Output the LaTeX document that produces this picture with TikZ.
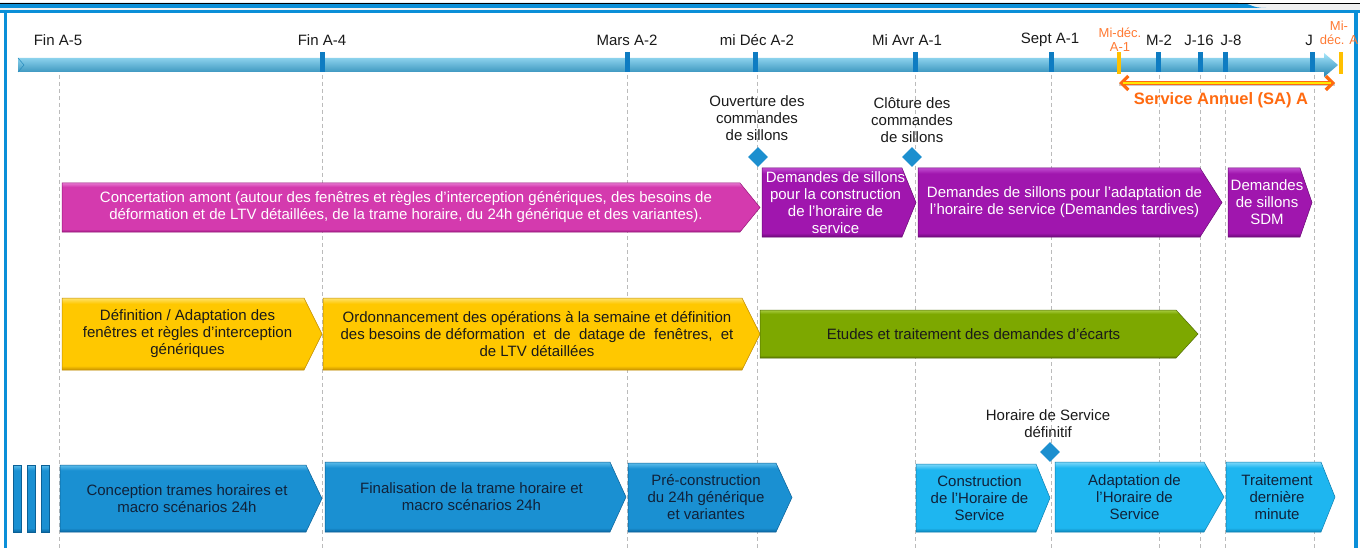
\documentclass[tikz,border=0pt]{standalone}
\usepackage{fontspec}
\setmainfont{Liberation Sans}
\usetikzlibrary{arrows.meta,shapes.geometric}
\definecolor{frameblue}{HTML}{0B8FD8}
\definecolor{tickblue}{HTML}{0E7CC2}
\definecolor{diamblue}{HTML}{1C8FCF}
\definecolor{orangeA}{HTML}{FF6A10}
\definecolor{orangeB}{HTML}{FF7A33}
\definecolor{tickorange}{HTML}{FFC000}
\definecolor{guidegray}{HTML}{BBBBBB}
\definecolor{txtdark}{HTML}{1A1A1A}
\definecolor{txtnavy}{HTML}{10223A}
\definecolor{barT}{HTML}{A6E6FB}
\definecolor{barM}{HTML}{52C8F2}
\definecolor{barB}{HTML}{2484B2}
\definecolor{barE}{HTML}{288CBE}
\definecolor{magT}{HTML}{E676D0}
\definecolor{magM}{HTML}{D43AAE}
\definecolor{magB}{HTML}{9E1A82}
\definecolor{magD}{HTML}{961478}
\definecolor{purT}{HTML}{C04ACF}
\definecolor{purM}{HTML}{A016AE}
\definecolor{purB}{HTML}{6E0A7A}
\definecolor{purD}{HTML}{6A0875}
\definecolor{yelT}{HTML}{FFE26A}
\definecolor{yelM}{HTML}{FFC800}
\definecolor{yelB}{HTML}{C89200}
\definecolor{yelD}{HTML}{C08C00}
\definecolor{grnT}{HTML}{A8CC40}
\definecolor{grnM}{HTML}{7DA800}
\definecolor{grnB}{HTML}{557000}
\definecolor{grnD}{HTML}{4F6A00}
\definecolor{bluT}{HTML}{5CBCEA}
\definecolor{bluM}{HTML}{1A90D2}
\definecolor{bluB}{HTML}{0A66A0}
\definecolor{bluD}{HTML}{0A6096}
\definecolor{cyaT}{HTML}{7ED8FA}
\definecolor{cyaM}{HTML}{1EB6F0}
\definecolor{cyaB}{HTML}{0C84B8}
\definecolor{cyaD}{HTML}{0C7EB0}
\newcommand\mkbevel[1]{%
  \pgfdeclareverticalshading{#1sh}{100bp}{color(0bp)=(#1B); color(25bp)=(#1B); color(28bp)=(#1M); color(71bp)=(#1M); color(75bp)=(#1T); color(100bp)=(#1T)}}
\mkbevel{mag}\mkbevel{pur}\mkbevel{yel}\mkbevel{grn}\mkbevel{blu}\mkbevel{cya}
\tikzset{
  lbl/.style={font=\fontsize{15}{17}\selectfont, text=txtdark, inner sep=0, align=center},
  olbl/.style={font=\fontsize{13}{14}\selectfont, text=orangeB, inner sep=0, align=center},
  boxtxt/.style={font=\fontsize{15}{17}\selectfont, inner sep=0, align=center},
  wtxt/.style={text=white},
  dtxt/.style={text=txtdark},
  ntxt/.style={text=txtnavy},
  guide/.style={draw=guidegray, dash pattern=on 4pt off 3pt, line width=0.7pt},
  tickmark/.style={fill=tickblue, draw=none},
  otick/.style={fill=tickorange, draw=none},
  ms/.style={diamond, fill=diamblue, minimum width=20pt, minimum height=20pt, inner sep=0},
  magbox/.style={shade, shading=magsh, draw=magD, line width=0.5pt},
  purbox/.style={shade, shading=pursh, draw=purD, line width=0.5pt},
  yelbox/.style={shade, shading=yelsh, draw=yelD, line width=0.5pt},
  grnbox/.style={shade, shading=grnsh, draw=grnD, line width=0.5pt},
  blubox/.style={shade, shading=blush, draw=bluD, line width=0.5pt},
  cyabox/.style={shade, shading=cyash, draw=cyaD, line width=0.5pt},
}
% #1 name, #2 x1, #3 y1, #4 x2 (tip), #5 y2, #6 tip width, #7 box style, #8 text style, #9 text
\newcommand\chev[9]{%
  \path[#7] (#2,#3) -- ({#4-#6},#3) -- (#4,{(#3+#5)/2}) -- ({#4-#6},#5) -- (#2,#5) -- cycle;
  \node[boxtxt,#8] (#1) at ({(#2+#4-#6)/2+#6/4},{(#3+#5)/2}) {#9};
}
\begin{document}
\begin{tikzpicture}[x=1pt,y=-1pt]
\useasboundingbox (0,0) rectangle (1367,548);
\fill[white] (0,0) rectangle (1367,548);
% frame
\fill[gray!12] (0,3) rectangle (1360,10);
\fill[frameblue] (0,3) -- (1238,3) .. controls (1252,3) and (1250,8) .. (1266,8) -- (0,8) -- cycle;
\draw[black, line width=0.6pt] (0,3) -- (1360,3);
\fill[frameblue] (0,10) rectangle (1360,13);
\fill[frameblue] (4,10) rectangle (6.5,548);
\fill[frameblue] (1354,10) rectangle (1358,548);

% guides
\foreach \gx in {59,322,627,757,915,1051,1159,1200,1225,1314}
  \draw[guide] (\gx,75) -- (\gx,548);

% timeline bar
\path[top color=barT, middle color=barM, bottom color=barB]
  (18,58) -- (1324,58) -- (1324,53) -- (1338,65) -- (1324,77) -- (1324,72) -- (18,72) -- cycle;
\draw[color=barE, line width=0.5pt] (18,58) -- (24,65) -- (18,72);
% ticks
\foreach \tx in {322,627,755,915,1051,1158,1200,1225,1312}
  \fill[tickmark] (\tx-2.5,52) rectangle (\tx+2.5,72);
\fill[otick] (1117,52) rectangle (1121,74);
\fill[otick] (1338.5,52) rectangle (1343,74);

% timeline labels
\node[lbl] (tA5) at (58,40) {Fin A-5};
\node[lbl] (tA4) at (322,40) {Fin A-4};
\node[lbl] (tM2) at (627,40) {Mars A-2};
\node[lbl] (tD2) at (757,40) {mi Déc A-2};
\node[lbl] (tV1) at (907,40) {Mi Avr A-1};
\node[lbl] (tS1) at (1050,40) {Sept A-1};
\node[olbl] (tMD1) at (1120,40) {Mi-déc.\\A-1};
\node[lbl] (tMm2) at (1159,40) {M-2};
\node[lbl] (tJ16) at (1199,40) {J-16};
\node[lbl] (tJ8) at (1231,40) {J-8};
\node[lbl] (tJ) at (1309,40) {J};
\node[olbl] (tMDA) at (1339,33) {Mi-\\déc. A};

% service annuel
\coordinate (saL) at (1119,83);
\coordinate (saR) at (1335,83);
\draw[gray!40, line width=3pt] ([yshift=-2pt]saL) -- ([yshift=-2pt]saR);
\draw[color=orangeA, line width=3.2pt, {Straight Barb[length=7pt,width=14pt]}-{Straight Barb[length=7pt,width=14pt]}] (saL) -- (saR);
\draw[color=yellow!90!orange, line width=1.2pt] ([xshift=4pt]saL) -- ([xshift=-4pt]saR);
\node[font=\fontsize{16.5}{18}\selectfont\bfseries, text=orangeA, inner sep=0] (sa) at (1221,100) {Service Annuel (SA) A};

% milestones
\node[ms] (m1) at (758,157) {};
\node[ms] (m2) at (912,157) {};
\node[ms] (m3) at (1050,452) {};
\node[lbl] (l1) at (757,118) {Ouverture des\\commandes\\de sillons};
\node[lbl] (l2) at (912,120) {Clôture des\\commandes\\de sillons};
\node[lbl] (l3) at (1048,424) {Horaire de Service\\définitif};

% row 1
\chev{r1a}{62}{183}{760}{232}{20}{magbox}{wtxt}{Concertation amont (autour des fenêtres et règles d’interception génériques, des besoins de\\déformation et de LTV détaillées, de la trame horaire, du 24h générique et des variantes).}
\chev{r1b}{762}{168}{916}{237}{14}{purbox}{wtxt}{Demandes de sillons\\pour la construction\\de l’horaire de\\service}
\chev{r1c}{918}{168}{1222}{237}{22}{purbox}{wtxt}{Demandes de sillons pour l’adaptation de\\l’horaire de service (Demandes tardives)}
\chev{r1d}{1228}{168}{1312}{237}{12}{purbox}{wtxt}{Demandes\\de sillons\\SDM}

% row 2
\chev{r2a}{62}{298}{322}{370}{18}{yelbox}{dtxt}{Définition / Adaptation des\\fenêtres et règles d’interception\\génériques}
\chev{r2b}{323}{298}{760}{370}{18}{yelbox}{dtxt}{Ordonnancement des opérations à la semaine et définition\\des besoins de déformation \ et \ de \ datage de \ fenêtres, \ et\\de LTV détaillées}
\chev{r2c}{760}{310}{1198}{358}{22}{grnbox}{dtxt}{Etudes et traitement des demandes d’écarts}

% row 3
\path[blubox] (13,465) rectangle (21,532);
\path[blubox] (27,465) rectangle (35,532);
\path[blubox] (41,465) rectangle (49,532);
\chev{r3a}{60}{465}{322}{532}{16}{blubox}{ntxt}{Conception trames horaires et\\macro scénarios 24h}
\chev{r3b}{325}{462}{626}{532}{16}{blubox}{ntxt}{Finalisation de la trame horaire et\\macro scénarios 24h}
\chev{r3c}{628}{463}{792}{532}{16}{blubox}{ntxt}{Pré-construction\\du 24h générique\\et variantes}
\chev{r3d}{916}{464}{1050}{532}{14}{cyabox}{ntxt}{Construction\\de l’Horaire de\\Service}
\chev{r3e}{1055}{462}{1224}{532}{20}{cyabox}{ntxt}{Adaptation de\\l’Horaire de\\Service}
\chev{r3f}{1226}{462}{1335}{532}{14}{cyabox}{ntxt}{Traitement\\dernière\\minute}
\end{tikzpicture}
\end{document}
